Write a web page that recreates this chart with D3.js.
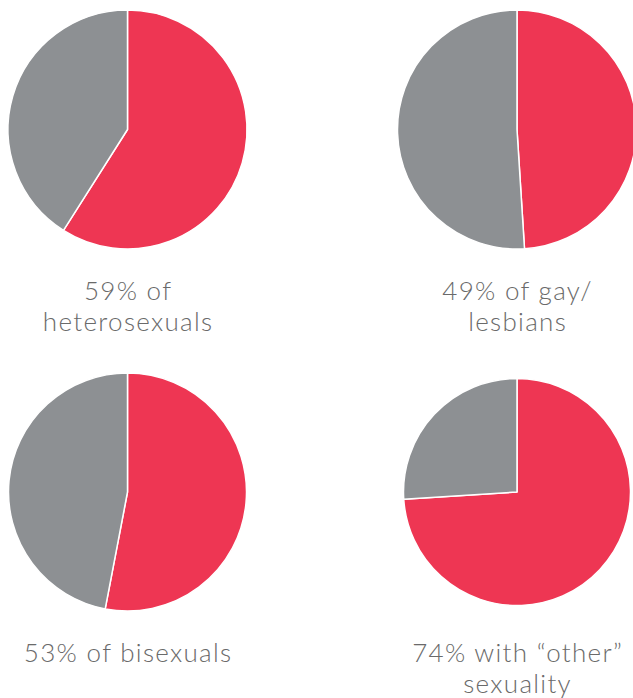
<!DOCTYPE html>
<html>
<head>
<meta charset="utf-8">
<script src="https://cdn.jsdelivr.net/npm/d3@7"></script>
<style>
  html, body { margin: 0; padding: 0; background: #ffffff; }
  svg { display: block; }
  .label { font-family: "Lato", "Open Sans", sans-serif; font-weight: 300; fill: #6a6a6a; letter-spacing: 1.3px; }
</style>
</head>
<body>
<svg id="chart" width="633" height="698"></svg>
<script>
// Share of each group (percent) answering "yes"
const groups = ["heterosexuals", "gay/lesbians", "bisexuals", "other"];
const shares = [59, 49, 53, 74];
// Caption lines; {v} is replaced with the group's share
const captions = [
  ["{v}% of", "heterosexuals"],
  ["{v}% of gay/", "lesbians"],
  ["{v}% of bisexuals"],
  ["{v}% with \u201Cother\u201D", "sexuality"]
];
const colors = ["#ee3653", "#8d9093"];

// Panel placement: pie centre, radius and first caption baseline
const panels = [
  { cx: 127.5, cy: 129.5, r: 119.5, ty: 300 },
  { cx: 517,   cy: 129.5, r: 119.5, ty: 300 },
  { cx: 127.5, cy: 492,   r: 119,   ty: 662 },
  { cx: 517,   cy: 492,   r: 113.5, ty: 662 }
];

const svg = d3.select("#chart");
const pie = d3.pie().sort(null).value(d => d);
const color = d3.scaleOrdinal().domain([0, 1]).range(colors);

groups.forEach((g, i) => {
  const p = panels[i];
  const arc = d3.arc().innerRadius(0).outerRadius(p.r);
  const gEl = svg.append("g").attr("transform", `translate(${p.cx},${p.cy})`);

  gEl.selectAll("path")
    .data(pie([shares[i], 100 - shares[i]]))
    .join("path")
    .attr("d", arc)
    .attr("fill", (d, j) => color(j))
    .attr("stroke", "#ffffff")
    .attr("stroke-width", 1.5)
    .attr("stroke-linejoin", "round");

  const text = svg.append("text")
    .attr("class", "label")
    .attr("text-anchor", "middle")
    .attr("font-size", 26);
  captions[i].forEach((line, k) => {
    text.append("tspan")
      .attr("x", p.cx + 0.6)
      .attr("y", p.ty + k * 31)
      .text(line.replace("{v}", shares[i]));
  });
});
</script>
</body>
</html>
